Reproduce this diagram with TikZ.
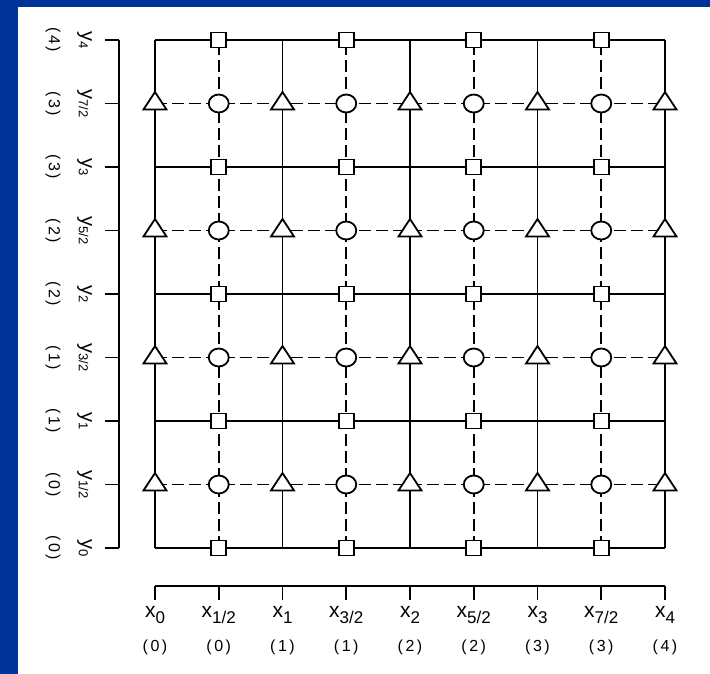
\documentclass[tikz,border=0pt]{standalone}
\usepackage{fontspec}
\setmainfont{Liberation Sans}
\usetikzlibrary{shapes.geometric}
\definecolor{bgblue}{RGB}{0,51,153}
\newcommand\xlab[1]{{\fontsize{21}{21}\selectfont x}\raisebox{-6pt}{\fontsize{17}{17}\selectfont #1}}
\newcommand\ylab[1]{{\fontsize{20}{20}\selectfont y}\raisebox{-2.5pt}{\fontsize{13}{13}\selectfont #1}}
\newcommand\plab[1]{{\fontsize{16}{16}\selectfont (\hspace{2.5pt}#1\hspace{2.5pt})}}
\begin{document}
\begin{tikzpicture}[x=1pt,y=-1pt,
  gridline/.style={line width=1.8pt,black},
  dashline/.style={line width=1.8pt,black,dash pattern=on 12pt off 5pt},
  axisline/.style={line width=1.8pt,black},
  sqmark/.style={draw,fill=white,line width=1.8pt,minimum size=15pt,inner sep=0pt},
  cmark/.style={draw,fill=white,line width=1.8pt,ellipse,minimum width=20pt,minimum height=18pt,inner sep=0pt},
  tmark/.style={draw,fill=white,line width=1.8pt,line join=miter},
  labtext/.style={inner sep=0pt}]
\fill[bgblue] (0,0) rectangle (710,674);
\fill[white] (18,7) rectangle (710,674);
\useasboundingbox (0,0) rectangle (710,674);
% grid coordinates
\foreach \i in {0,...,8}{
  \foreach \j in {0,...,8}{
    \coordinate (g\i-\j) at ({155+63.75*\i},{548-63.5*\j});
  }
}
% solid and dashed lines
\foreach \k in {0,2,4,6,8}{
  \draw[gridline] (g0-\k) -- (g8-\k);
  \draw[gridline] (g\k-0) -- (g\k-8);
}
\foreach \k in {1,3,5,7}{
  \draw[dashline] (g0-\k) -- (g8-\k);
  \draw[dashline] (g\k-0) -- (g\k-8);
}
% markers
\foreach \i in {1,3,5,7}{
  \foreach \j in {0,2,4,6,8}{
    \node[sqmark] (s\i-\j) at (g\i-\j) {};
  }
  \foreach \j in {1,3,5,7}{
    \node[cmark] (c\i-\j) at (g\i-\j) {};
  }
}
\foreach \i in {0,2,4,6,8}{
  \foreach \j in {1,3,5,7}{
    \filldraw[tmark] (g\i-\j) ++(-11.5,6) -- ++(23,0) -- ++(-11.5,-17.5) -- cycle;
  }
}
% y axis
\foreach \j in {0,...,8}{
  \coordinate (ya\j) at (119,{548-63.5*\j});
  \coordinate (yt\j) at (105,{548-63.5*\j});
  \draw[axisline] (ya\j) -- (yt\j);
}
\draw[axisline] (ya0) -- (ya8);
% x axis
\foreach \i in {0,...,8}{
  \coordinate (xa\i) at ({155+63.75*\i},586);
  \coordinate (xt\i) at ({155+63.75*\i},600);
  \draw[axisline] (xa\i) -- (xt\i);
}
\draw[axisline] (xa0) -- (xa8);
% x labels
\foreach \i/\s/\p in {0/0/0,1/{1/2}/0,2/1/1,3/{3/2}/1,4/2/2,5/{5/2}/2,6/3/3,7/{7/2}/3,8/4/4}{
  \node[labtext,anchor=base] (xl\i) at ({155+63.75*\i},617) {\xlab{\s}};
  \node[labtext,anchor=center] (xp\i) at ({155+63.75*\i},647) {\plab{\p}};
}
% y labels (rotated clockwise, reading top to bottom)
\foreach \j/\s/\p in {0/0/0,1/{1/2}/0,2/1/1,3/{3/2}/1,4/2/2,5/{5/2}/2,6/3/3,7/{7/2}/3,8/4/4}{
  \begin{scope}[shift={(84.5,{548-63.5*\j})}]
    \pgftransformrotate{-90}
    \node[labtext,anchor=center,transform shape] (yl\j) at (0,0) {\ylab{\s}};
  \end{scope}
  \begin{scope}[shift={(53,{548-63.5*\j})}]
    \pgftransformrotate{-90}
    \node[labtext,anchor=center,transform shape] (yp\j) at (0,0) {\plab{\p}};
  \end{scope}
}
\end{tikzpicture}
\end{document}
